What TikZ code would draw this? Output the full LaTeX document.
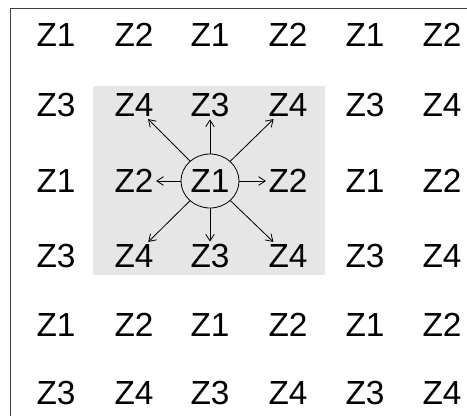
\documentclass[tikz,border=0pt]{standalone}
\usepackage{fontspec}
\setmainfont{Liberation Sans}
\usetikzlibrary{arrows.meta,shapes.geometric}
\definecolor{cellbg}{HTML}{e6e6e6}
\definecolor{edge}{HTML}{404040}

\begin{document}
\begin{tikzpicture}[x=0.03cm,y=-0.03cm,font=\fontsize{28.5}{34}\selectfont,
  zone/.style={inner sep=2pt},
  hub/.style={draw,ellipse,inner sep=0pt,minimum width=1.74cm,minimum height=1.62cm,line width=0.7pt},
  arr/.style={-{Straight Barb[length=2mm,width=2.6mm]},line width=0.7pt}]
  \useasboundingbox (0,0) rectangle (467,416);
  \fill[cellbg] (93,86) rectangle (325,275);
  \draw[edge,line width=0.8pt] (467,8) -- (10,8) -- (10,416);
  % zones repeat as Z1 Z2 / Z3 Z4
  \foreach \r/\y in {1/35,2/105,3/181,4/256,5/325,6/393}
    \foreach \c/\x in {1/56,2/134,3/210,4/288,5/365,6/442} {
      \pgfmathtruncatemacro\zn{1+mod(\c+1,2)+2*mod(\r+1,2)}
      \ifnum\r\c=33\relax
        \node[hub] (z\r\c) at (\x,\y) {Z\zn};
      \else
        \node[zone] (z\r\c) at (\x,\y) {Z\zn};
      \fi
    }
  \foreach \n in {22,23,24,32,34,42,43,44} \draw[arr] (z33) -- (z\n);
\end{tikzpicture}
\end{document}
